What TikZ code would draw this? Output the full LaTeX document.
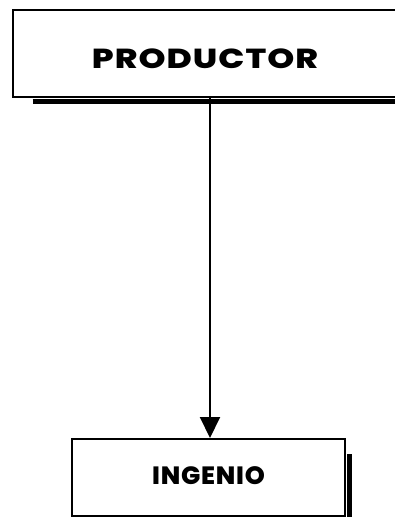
\documentclass[tikz,border=0pt]{standalone}
\usepackage{fontspec}
\newfontfamily\boxfont{Poppins}[LetterSpace=3,BoldFont={Poppins ExtraBold}]
\usetikzlibrary{arrows.meta}
\newcommand\widetext[2]{\scalebox{#1}[1]{#2}}
\tikzset{
  unitbox/.style={draw=black,line width=2pt,fill=white,inner sep=0pt,text depth=0pt,font=\boxfont\bfseries},
  shade/.style={line width=5pt,line cap=butt},
  flow/.style={-{Triangle[length=21pt,width=20pt]},line width=2pt},
}
\begin{document}
\begin{tikzpicture}[x=1pt,y=-1pt]
  \useasboundingbox (0,0) rectangle (395,520);
  \clip (0,0) rectangle (395,520);
  % top box, cut at the right margin
  \node[unitbox,minimum width=385pt,minimum height=87pt,text height=29pt,font=\boxfont\bfseries\fontsize{27.5}{32}\selectfont] (prod) at (205,53.5) {\widetext{1.25}{PRODUCTOR}};
  \draw[shade] ([xshift=21pt,yshift=-3pt]prod.south west) -- ([yshift=-3pt]prod.south east);
  % bottom box
  \node[unitbox,minimum width=273pt,minimum height=77pt,text height=14pt,font=\boxfont\bfseries\fontsize{25}{30}\selectfont] (ing) at (208.5,477.5) {\widetext{1.02}{INGENIO}};
  \draw[shade] ([xshift=3pt,yshift=-16pt]ing.north east) -- ([xshift=3pt]ing.south east);
  % flow
  \draw[flow] ([xshift=1.5pt]prod.south -| ing.north) -- ([xshift=1.5pt]ing.north);
\end{tikzpicture}
\end{document}
